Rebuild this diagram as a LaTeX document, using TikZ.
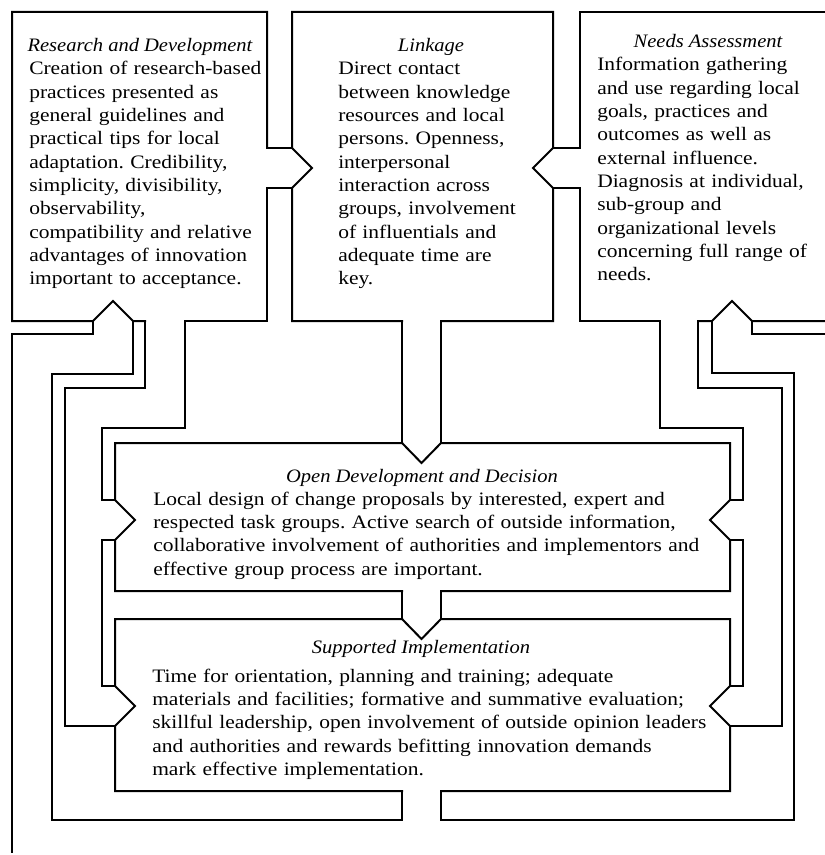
\documentclass[tikz,border=0pt]{standalone}
\usepackage{fontspec}
\setmainfont{Liberation Serif}[FakeStretch=1.13,ItalicFeatures={FakeStretch=1.08}]
\newcommand\bodyfont{\fontsize{14.25pt}{17.5pt}\selectfont}
\frenchspacing
\begin{document}
\begin{tikzpicture}[x=0.75pt,y=-0.75pt,
  wall/.style={line width=1.5pt,line join=miter,line cap=rect},
  bodytext/.style={anchor=base west,inner sep=0pt,align=left,text width=#1,font=\bodyfont},
  ttl/.style={anchor=base,inner sep=0pt,font=\bodyfont\itshape}]
\useasboundingbox (0,0) rectangle (824,855);

% ---- top boxes ----
\draw[wall] (267,148) -- (267,12) -- (12,12) -- (12,321) -- (93,321) -- (113,301) -- (133,321) -- (145,321);
\draw[wall] (185,321) -- (267,321) -- (267,188);
\draw[wall] (292,148) -- (292,12) -- (553,12) -- (553,148) -- (533,168) -- (553,188) -- (553,321) -- (441,321);
\draw[wall] (402,321) -- (292,321) -- (292,188) -- (312,168) -- (292,148);
\draw[wall] (824,12) -- (580,12) -- (580,148);
\draw[wall] (580,188) -- (580,321) -- (660,321);
\draw[wall] (698,321) -- (712,321) -- (732,301) -- (752,321) -- (824,321);

% ---- Open Development box ----
\draw[wall] (402,443) -- (115,443) -- (115,500) -- (135,520) -- (115,540) -- (115,591) -- (402,591);
\draw[wall] (441,591) -- (730,591) -- (730,540) -- (710,520) -- (730,500) -- (730,443) -- (441,443) -- (421.5,463) -- (402,443);

% ---- Supported Implementation box ----
\draw[wall] (402,619) -- (115,619) -- (115,686) -- (135,706) -- (115,726) -- (115,791) -- (402,791);
\draw[wall] (441,791) -- (730,791) -- (730,726) -- (710,706) -- (730,686) -- (730,619) -- (441,619) -- (421.5,639) -- (402,619);

% ---- pipes between top boxes ----
\draw[wall] (267,148) -- (292,148);
\draw[wall] (267,188) -- (292,188);
\draw[wall] (553,148) -- (580,148);
\draw[wall] (553,188) -- (580,188);

% ---- Linkage -> Open Development, Open Development -> Supported ----
\draw[wall] (402,321) -- (402,443);
\draw[wall] (441,321) -- (441,443);
\draw[wall] (402,591) -- (402,619);
\draw[wall] (441,591) -- (441,619);

% ---- Research and Development -> Open Development / Supported ----
\draw[wall] (185,321) -- (185,428) -- (102,428) -- (102,500) -- (115,500);
\draw[wall] (145,321) -- (145,388) -- (65,388) -- (65,726) -- (115,726);
\draw[wall] (115,540) -- (102,540) -- (102,686) -- (115,686);

% ---- Needs Assessment -> Open Development / Supported ----
\draw[wall] (660,321) -- (660,428) -- (743,428) -- (743,500) -- (730,500);
\draw[wall] (698,321) -- (698,388) -- (782,388) -- (782,726) -- (730,726);
\draw[wall] (730,540) -- (743,540) -- (743,686) -- (730,686);

% ---- feedback loop from Supported Implementation ----
\draw[wall] (402,791) -- (402,820) -- (52,820) -- (52,374) -- (133,374) -- (133,321);
\draw[wall] (441,791) -- (441,820) -- (794,820) -- (794,373) -- (712,373) -- (712,321);
\draw[wall] (93,321) -- (93,334) -- (12,334) -- (12,852);
\draw[wall] (752,321) -- (752,334) -- (824,334);

% ---- texts ----
\node[ttl] (rdt) at (140,52) {Research and Development};
\node[bodytext=230pt] (rdb) at (29,75) {Creation of research-based\\
practices presented as\\
general guidelines and\\
practical tips for local\\
adaptation. Credibility,\\
simplicity, divisibility,\\
observability,\\
compatibility and relative\\
advantages of innovation\\
important to acceptance.};

\node[ttl] (lkt) at (431,52) {Linkage};
\node[bodytext=200pt] (lkb) at (338,75) {Direct contact\\
between knowledge\\
resources and local\\
persons. Openness,\\
interpersonal\\
interaction across\\
groups, involvement\\
of influentials and\\
adequate time are\\
key.};

\node[ttl] (ndt) at (708,48) {Needs Assessment};
\node[bodytext=230pt] (ndb) at (597,71) {Information gathering\\
and use regarding local\\
goals, practices and\\
outcomes as well as\\
external influence.\\
Diagnosis at individual,\\
sub-group and\\
organizational levels\\
concerning full range of\\
needs.};

\node[ttl] (odt) at (422,482) {Open Development and Decision};
\node[bodytext=500pt] (odb) at (153,505) {Local design of change proposals by interested, expert and\\
respected task groups. Active search of outside information,\\
collaborative involvement of authorities and implementors and\\
effective group process are important.};

\node[ttl] (sit) at (421,653) {Supported Implementation};
\node[bodytext=500pt] (sib) at (152,682) {Time for orientation, planning and training; adequate\\
materials and facilities; formative and summative evaluation;\\
skillful leadership, open involvement of outside opinion leaders\\
and authorities and rewards befitting innovation demands\\
mark effective implementation.};
\end{tikzpicture}
\end{document}
